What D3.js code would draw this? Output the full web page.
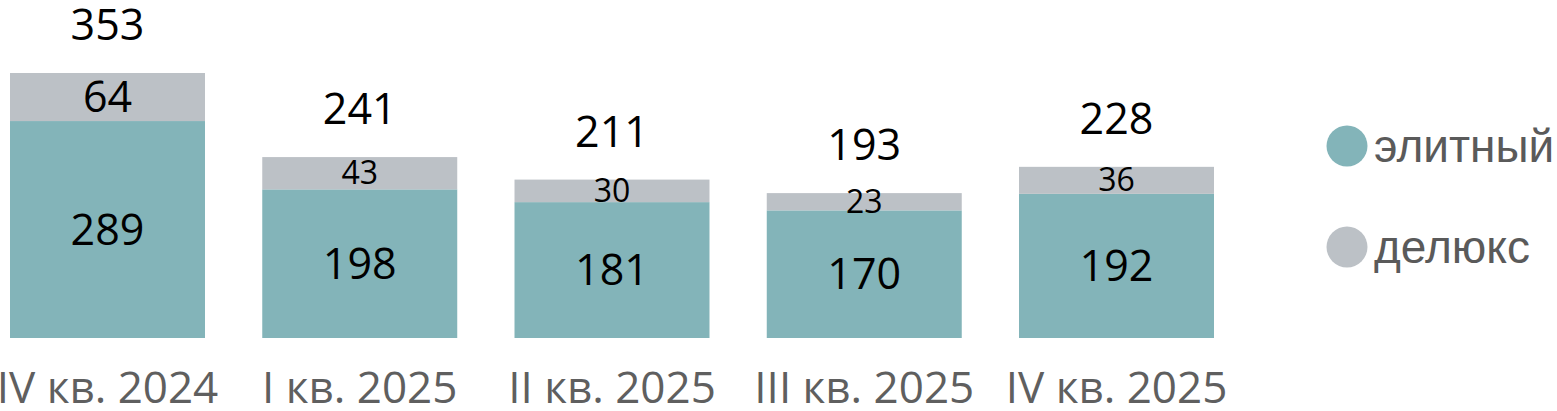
<!DOCTYPE html>
<html lang="ru">
<head>
    <meta charset="UTF-8">
    <title>Элитный и делюкс</title>
    <script src="https://d3js.org/d3.v7.min.js"></script>
    <style>
        body { margin: 0; background: #fff; }
    </style>
</head>
<body>
    <svg width="1557" height="411"></svg>
    <script>
        // данные с картинки
        const quarters = ["IV кв. 2024", "I кв. 2025", "II кв. 2025", "III кв. 2025", "IV кв. 2025"];
        const elite = [289, 198, 181, 170, 192];
        const deluxe = [64, 43, 30, 23, 36];
        const seriesNames = ["элитный", "делюкс"];
        const colors = ["#83b4b9", "#bcc1c6"];

        const width = 1557, height = 411;
        const svg = d3.select("svg");

        const x = d3.scaleBand()
            .domain(quarters)
            .range([10, 1214])
            .paddingInner(0.227)
            .paddingOuter(0);

        const y = d3.scaleLinear()
            .domain([0, 400])
            .range([338, 338 - 400 * 0.7507]);

        const rows = quarters.map((q, i) => ({q: q, elite: elite[i], deluxe: deluxe[i]}));
        const stacked = d3.stack().keys(["elite", "deluxe"])(rows);

        // столбики
        svg.append("g").selectAll("g")
            .data(stacked)
            .join("g")
            .attr("fill", (d, i) => colors[i])
            .selectAll("rect")
            .data(d => d)
            .join("rect")
            .attr("x", d => x(d.data.q))
            .attr("y", d => y(d[1]))
            .attr("width", x.bandwidth())
            .attr("height", d => y(d[0]) - y(d[1]));

        const font = "'Open Sans', sans-serif";

        // подписи сегментов
        svg.append("g").selectAll("text")
            .data(stacked[0])
            .join("text")
            .attr("x", d => x(d.data.q) + x.bandwidth() / 2)
            .attr("y", d => (y(d[0]) + y(d[1])) / 2 + 15)
            .attr("text-anchor", "middle")
            .style("font-family", font)
            .style("font-size", "43px")
            .text(d => d[1] - d[0]);

        svg.append("g").selectAll("text")
            .data(stacked[1])
            .join("text")
            .attr("x", d => x(d.data.q) + x.bandwidth() / 2)
            .attr("y", (d, i) => (y(d[0]) + y(d[1])) / 2 + (i === 0 ? 15 : 11))
            .attr("text-anchor", "middle")
            .style("font-family", font)
            .style("font-size", (d, i) => i === 0 ? "43px" : "32px")
            .text(d => d[1] - d[0]);

        // итоги над столбиками
        svg.append("g").selectAll("text")
            .data(rows)
            .join("text")
            .attr("x", d => x(d.q) + x.bandwidth() / 2)
            .attr("y", d => y(d.elite + d.deluxe) - 33)
            .attr("text-anchor", "middle")
            .style("font-family", font)
            .style("font-size", "43px")
            .text(d => d.elite + d.deluxe);

        // ось X
        const xAxis = svg.append("g")
            .attr("transform", "translate(0,338)")
            .call(d3.axisBottom(x).tickSize(0).tickPadding(0));
        xAxis.select(".domain").remove();
        xAxis.selectAll("text")
            .attr("dy", null)
            .attr("y", 65)
            .attr("fill", "#5f5f5f")
            .style("font-family", font)
            .style("font-size", "44px");

        // легенда
        const legend = svg.append("g").selectAll("g")
            .data(seriesNames)
            .join("g")
            .attr("transform", (d, i) => `translate(1347,${146 + i * 101})`);
        legend.append("circle")
            .attr("r", 20.5)
            .attr("fill", (d, i) => colors[i]);
        legend.append("text")
            .attr("x", 27)
            .attr("y", 16)
            .attr("fill", "#5a5a5a")
            .style("font-family", "'Liberation Sans', Arial, sans-serif")
            .style("font-size", "46px")
            .text(d => d);
    </script>
</body>
</html>
